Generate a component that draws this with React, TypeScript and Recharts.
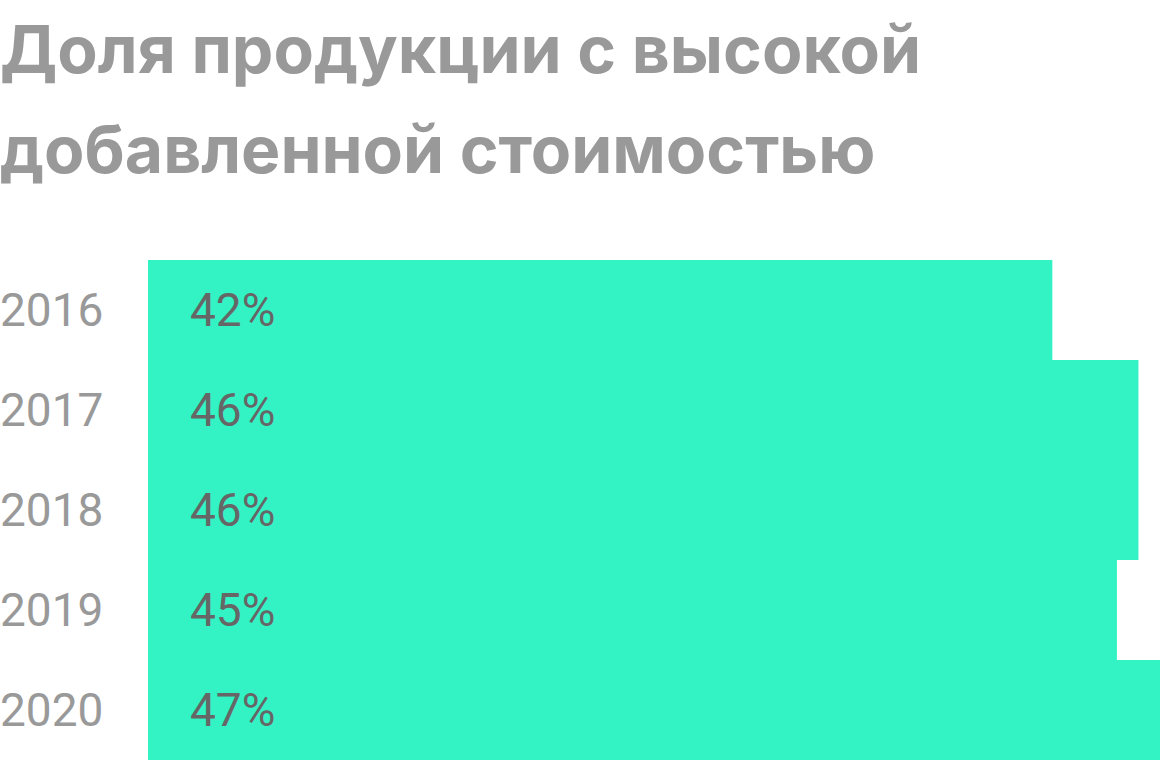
import React from "react";
import { BarChart, Bar, XAxis, YAxis, LabelList } from "recharts";

const years = ["2016", "2017", "2018", "2019", "2020"];
const shares = [42, 46, 46, 45, 47];
const valueLabels = ["42%", "46%", "46%", "45%", "47%"];

const data = years.map((year, i) => ({ year, share: shares[i], label: valueLabels[i] }));

const FONT = "Roboto, 'Noto Sans', sans-serif";
const TITLE_FONT = "Inter, Roboto, sans-serif";

const YearTick = ({ y, payload }: any) => (
  <text x={0} y={y + 16} fill="#999999" fontSize={46} fontFamily={FONT} textAnchor="start">
    {payload.value}
  </text>
);

const ValueLabel = ({ x, y, height, index }: any) => (
  <text x={x + 42} y={y + height / 2 + 16} fill="#666666" fontSize={46} fontFamily={FONT}>
    {valueLabels[index]}
  </text>
);

export default function App() {
  return (
    <div style={{ position: "fixed", left: 0, top: 0, width: 1160, height: 760, background: "#fff" }}>
      <div
        style={{
          position: "absolute",
          left: 0,
          top: 0,
          fontFamily: TITLE_FONT,
          fontWeight: 700,
          fontSize: 66,
          lineHeight: "100px",
          color: "#999999",
          marginTop: -1,
          whiteSpace: "nowrap",
        }}
      >
        Доля продукции с высокой
        <br />
        добавленной стоимостью
      </div>
      <div style={{ position: "absolute", left: 0, top: 260 }}>
        <BarChart
          width={1160}
          height={500}
          data={data}
          layout="vertical"
          margin={{ top: 0, right: 0, bottom: 0, left: 0 }}
          barCategoryGap={0}
        >
          <XAxis type="number" domain={[0, 47]} hide />
          <YAxis
            type="category"
            dataKey="year"
            width={148}
            axisLine={false}
            tickLine={false}
            tick={<YearTick />}
          />
          <Bar dataKey="share" fill="#33F3C5" isAnimationActive={false}>
            <LabelList dataKey="label" content={<ValueLabel />} />
          </Bar>
        </BarChart>
      </div>
    </div>
  );
}
